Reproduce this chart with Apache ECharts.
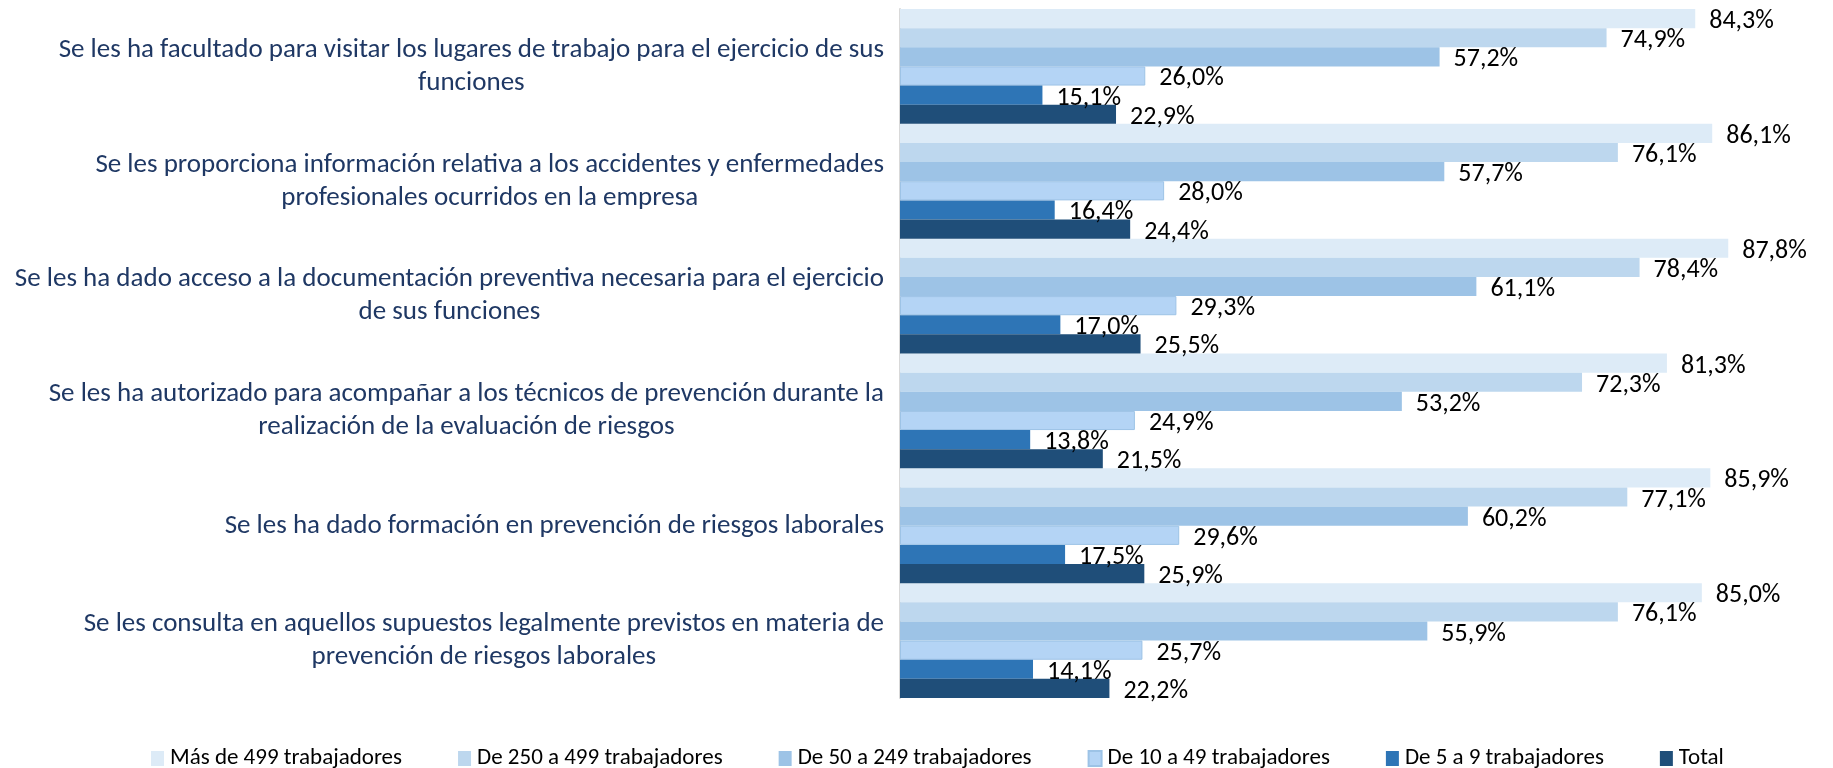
<!DOCTYPE html>
<html>
<head>
<meta charset="utf-8">
<script src="https://cdn.jsdelivr.net/npm/echarts@6/dist/echarts.min.js"></script>
<style>
    html, body { margin: 0; padding: 0; background: #fff; }
    #chart { width: 1833px; height: 768px; }
</style>
</head>
<body>
<div id="chart"></div>
<script>
//  categorías (saltos de línea como en el original)
var categories = [
    'Se les ha facultado para visitar los lugares de trabajo para el ejercicio de sus\nfunciones',
    'Se les proporciona información relativa a los accidentes y enfermedades\nprofesionales ocurridos en la empresa',
    'Se les ha dado acceso a la documentación preventiva necesaria para el ejercicio\nde sus funciones',
    'Se les ha autorizado para acompañar a los técnicos de prevención durante la\nrealización de la evaluación de riesgos',
    'Se les ha dado formación en prevención de riesgos laborales',
    'Se les consulta en aquellos supuestos legalmente previstos en materia de\nprevención de riesgos laborales'
];
var seriesNames = ['Más de 499 trabajadores', 'De 250 a 499 trabajadores', 'De 50 a 249 trabajadores',
    'De 10 a 49 trabajadores', 'De 5 a 9 trabajadores', 'Total'];
var mas499 = [84.3, 86.1, 87.8, 81.3, 85.9, 85.0];
var de250 = [74.9, 76.1, 78.4, 72.3, 77.1, 76.1];
var de50 = [57.2, 57.7, 61.1, 53.2, 60.2, 55.9];
var de10 = [26.0, 28.0, 29.3, 24.9, 29.6, 25.7];
var de5 = [15.1, 16.4, 17.0, 13.8, 17.5, 14.1];
var total = [22.9, 24.4, 25.5, 21.5, 25.9, 22.2];
var colors = ['#DDEBF7', '#BDD7EE', '#9DC3E6', '#B4D4F5', '#2E75B6', '#1F4E79'];

var font = "Carlito, 'Liberation Sans Narrow', 'Liberation Sans', sans-serif";
var values = [mas499, de250, de50, de10, de5, total];

var series = values.map(function (data, i) {
    return {
        name: seriesNames[i],
        type: 'bar',
        data: data,
        barGap: 0,
        barCategoryGap: 0,
        itemStyle: {
            color: colors[i],
            borderColor: i === 3 ? '#9DC3E6' : colors[i],
            borderWidth: i === 3 ? 1 : 0
        },
        label: {
            show: true,
            position: 'right',
            distance: 14,
            offset: [0, 3],
            color: '#000',
            fontFamily: font,
            fontSize: 26,
            formatter: function (p) {
                return p.value.toFixed(1).replace('.', ',') + '%';
            }
        }
    };
});

var chart = echarts.init(document.getElementById('chart'));
chart.setOption({
    animation: false,
    grid: {
        left: 900,
        right: 84,
        top: 9,
        bottom: 70
    },
    legend: {
        data: seriesNames,
        left: 146,
        top: 742,
        itemWidth: 13,
        itemHeight: 15,
        itemGap: 56,
        icon: 'rect',
        textStyle: {
            color: '#000',
            fontFamily: font,
            fontSize: 23,
            padding: [0, 0, 0, 1]
        }
    },
    xAxis: {
        type: 'value',
        min: 0,
        max: 90,
        show: false
    },
    yAxis: {
        type: 'category',
        inverse: true,
        data: categories,
        axisTick: { show: false },
        axisLine: { show: true, lineStyle: { color: '#D9D9D9', width: 2 } },
        axisLabel: {
            margin: 16,
            align: 'right',
            formatter: function (v) {
                return v.split('\n').map(function (l) { return '{c|' + l + '}'; }).join('\n');
            },
            rich: {
                c: {
                    align: 'center',
                    color: '#1F3864',
                    fontFamily: font,
                    fontSize: 27,
                    lineHeight: 33
                }
            }
        }
    },
    series: series
});
</script>
</body>
</html>
